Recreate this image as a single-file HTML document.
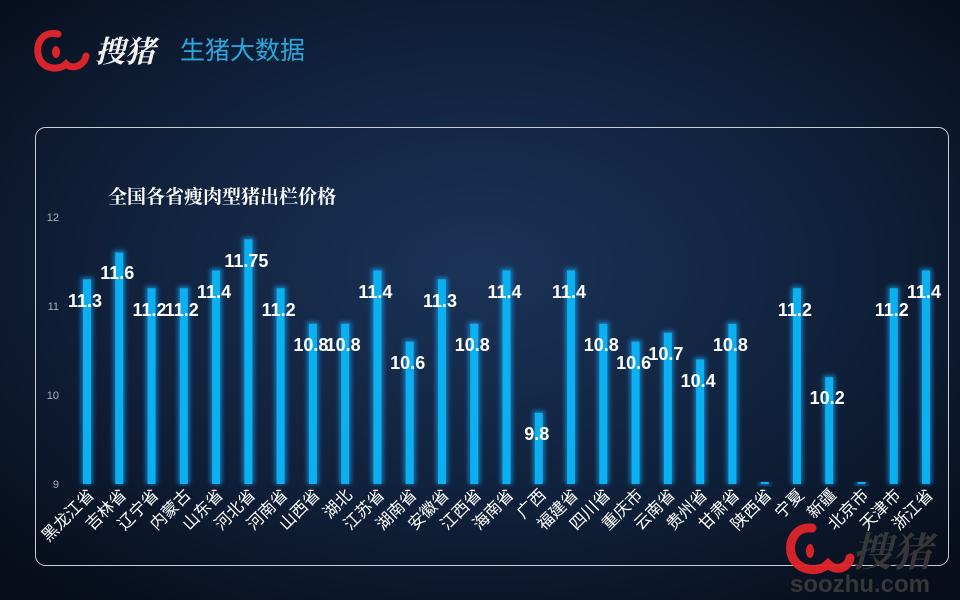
<!DOCTYPE html>
<html><head><meta charset="utf-8"><style>
html,body{margin:0;padding:0;width:960px;height:600px;overflow:hidden;background:#0b1527;}
</style></head><body>
<svg width="960" height="600" xmlns="http://www.w3.org/2000/svg" style="display:block">
<defs>
<radialGradient id="bg" cx="0.5" cy="0.45" r="0.7">
<stop offset="0" stop-color="#1b3358"/><stop offset="0.6" stop-color="#0f1f38"/><stop offset="1" stop-color="#070d1a"/>
</radialGradient>
<filter id="glow" x="-100%" y="-10%" width="300%" height="120%"><feGaussianBlur stdDeviation="2.5"/></filter>
</defs>
<rect width="960" height="600" fill="url(#bg)"/>
<g>
<path d="M58 34 C40 30 34 48 40 60 C46 70 60 70 66 64 C72 70 84 66 86 56" fill="none" stroke="#d8242a" stroke-width="7" stroke-linecap="round"/>
<ellipse cx="56" cy="52" rx="4" ry="6" fill="#d8242a"/>
<text x="95" y="62" font-family="'Noto Serif CJK SC',serif" font-size="30" font-weight="bold" fill="#f2f2f2" font-style="italic">搜猪</text>
<text x="180" y="59" font-family="'Liberation Sans','Noto Sans CJK SC',sans-serif" font-size="25" fill="#2aa6dc">生猪大数据</text>
</g>
<rect x="35.5" y="127.5" width="913" height="438" rx="10" fill="none" stroke="#c9ced6" stroke-width="1"/>
<text x="108" y="203" font-family="'Noto Serif CJK SC',serif" font-size="19" font-weight="bold" fill="#ffffff">全国各省瘦肉型猪出栏价格</text>
<g font-family="'Liberation Sans',sans-serif" font-size="11" fill="#a8b0bc" text-anchor="end">
<text x="59" y="221">12</text><text x="59" y="310">11</text><text x="59" y="399">10</text><text x="59" y="488">9</text>
</g>
<g id="bars"></g>
<g id="labels" font-family="'Liberation Sans',sans-serif" font-size="18" font-weight="bold" fill="#ffffff" text-anchor="middle"></g>
<g id="cats" font-family="'Noto Sans CJK SC',sans-serif" font-size="16.5" fill="#ffffff" text-anchor="end"></g>
<g opacity="0.95">
<path d="M812 528 C792 526 786 548 794 560 C802 572 820 572 828 564 C836 572 848 568 850 558" fill="none" stroke="#e0242a" stroke-width="9" stroke-linecap="round"/>
<ellipse cx="810" cy="551" rx="4" ry="7" fill="#e0242a"/>
<text x="852" y="566" font-family="'Noto Serif CJK SC',serif" font-size="40" font-weight="bold" fill="#3a3a3a" font-style="italic">搜猪</text>
<text x="790" y="592" font-family="'Liberation Sans',sans-serif" font-size="24" font-weight="bold" fill="#3a3a3a">soozhu.com</text>
</g>
</svg>
<script>
(function(){
var names=["黑龙江省","吉林省","辽宁省","内蒙古","山东省","河北省","河南省","山西省","湖北","江苏省","湖南省","安徽省","江西省","海南省","广西","福建省","四川省","重庆市","云南省","贵州省","甘肃省","陕西省","宁夏","新疆","北京市","天津市","浙江省"];
var vals=[11.3,11.6,11.2,11.2,11.4,11.75,11.2,10.8,10.8,11.4,10.6,11.3,10.8,11.4,9.8,11.4,10.8,10.6,10.7,10.4,10.8,9,11.2,10.2,9,11.2,11.4];
var ly={11.3:307,11.6:279,11.2:316,11.4:298,11.75:267,10.8:351,10.6:369,9.8:440,10.7:360,10.4:387,10.2:404};
var ns="http://www.w3.org/2000/svg",b=document.getElementById("bars"),l=document.getElementById("labels"),c=document.getElementById("cats");
function el(t,a,p){var e=document.createElementNS(ns,t);for(var k in a)e.setAttribute(k,a[k]);p.appendChild(e);return e;}
for(var i=0;i<27;i++){var x=87+i*32.27,v=vals[i],yt=484-(v-9)*89,h=Math.max(484-yt,2);
el("rect",{x:x-6,y:yt-2,width:12,height:h+2,fill:"#1aa7ff",opacity:0.6,filter:"url(#glow)"},b);
el("rect",{x:x-4,y:(h<=2?482:yt),width:8,height:h,fill:"#0ab0ef"},b);
if(v>9){var t=el("text",{x:x-2,y:ly[v]},l);t.textContent=v;}
var ct=el("text",{transform:"translate("+(x+8)+",496) rotate(-45)"},c);ct.textContent=names[i];}
})();
</script>
</body></html>
